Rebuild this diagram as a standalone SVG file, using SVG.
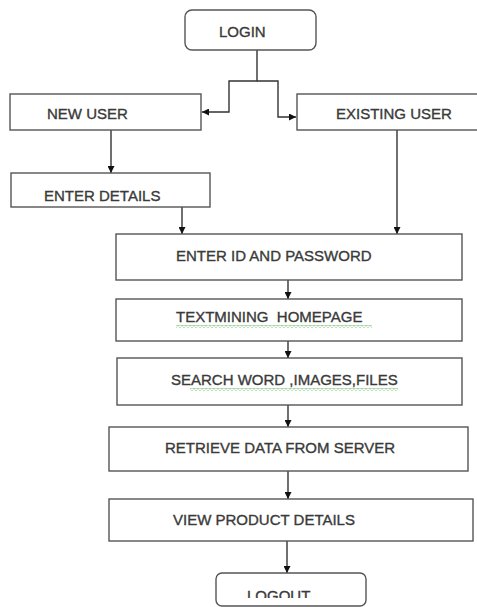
<svg xmlns="http://www.w3.org/2000/svg" width="477" height="607" viewBox="0 0 477 607">
<style>
.box{fill:#fff;stroke:#555;stroke-width:1.4}
.lbl{font-family:"Liberation Sans",Arial,sans-serif;font-size:15px;fill:#3a3a3a;stroke:#3a3a3a;stroke-width:0.35;white-space:pre}
.con{fill:none;stroke:#333;stroke-width:1.4}
</style>
<defs>
<marker id="ah" viewBox="0 0 10 10" refX="10" refY="5" markerWidth="7" markerHeight="7" orient="auto" markerUnits="userSpaceOnUse">
<path d="M0,0 L10,5 L0,10 Z" fill="#111"/>
</marker>
<pattern id="zz" width="4" height="3" patternUnits="userSpaceOnUse">
<path d="M0,0.6 L2,2.2 L4,0.6" fill="none" stroke="#6cbf6c" stroke-width="0.9"/>
</pattern>
<clipPath id="cl"><rect x="0" y="0" width="477" height="598"/></clipPath>
</defs>
<rect width="477" height="607" fill="#fff"/>
<g id="connectors">
<polyline class="con" points="257,50 257,81 229,81 229,112 202,112" marker-end="url(#ah)"/>
<polyline class="con" points="257,81 278,81 278,117 296,117" marker-end="url(#ah)"/>
<line class="con" x1="111" y1="130" x2="111" y2="173" marker-end="url(#ah)"/>
<line class="con" x1="182" y1="207" x2="182" y2="234" marker-end="url(#ah)"/>
<line class="con" x1="397" y1="130" x2="397" y2="234" marker-end="url(#ah)"/>
<line class="con" x1="288" y1="280" x2="288" y2="299" marker-end="url(#ah)"/>
<line class="con" x1="288" y1="341" x2="288" y2="358" marker-end="url(#ah)"/>
<line class="con" x1="288" y1="405" x2="288" y2="427" marker-end="url(#ah)"/>
<line class="con" x1="288" y1="471" x2="288" y2="499" marker-end="url(#ah)"/>
<line class="con" x1="287" y1="541" x2="287" y2="573" marker-end="url(#ah)"/>
</g>
<g id="login">
<rect class="box" x="185" y="10" width="131" height="40" rx="7"/>
<text class="lbl" x="219" y="37">LOGIN</text>
</g>
<g id="new-user">
<rect class="box" x="10" y="94" width="191" height="36"/>
<text class="lbl" x="47" y="119">NEW USER</text>
</g>
<g id="existing-user">
<rect class="box" x="297" y="94" width="182" height="36"/>
<text class="lbl" x="336" y="119">EXISTING USER</text>
</g>
<g id="enter-details">
<rect class="box" x="11" y="173" width="199" height="34"/>
<text class="lbl" x="44" y="201">ENTER DETAILS</text>
</g>
<g id="enter-id">
<rect class="box" x="116" y="234" width="346" height="46"/>
<text class="lbl" x="176" y="261">ENTER ID AND PASSWORD</text>
</g>
<g id="homepage">
<rect class="box" x="116" y="299" width="346" height="42"/>
<text class="lbl" x="176" y="322">TEXTMINING  HOMEPAGE</text>
<rect x="176" y="325" width="196" height="3" fill="url(#zz)"/>
</g>
<g id="search">
<rect class="box" x="117" y="358" width="345" height="47"/>
<text class="lbl" x="171" y="385">SEARCH WORD ,IMAGES,FILES</text>
<rect x="190" y="388" width="208" height="3" fill="url(#zz)"/>
</g>
<g id="retrieve">
<rect class="box" x="109" y="427" width="359" height="44"/>
<text class="lbl" x="165" y="453">RETRIEVE DATA FROM SERVER</text>
</g>
<g id="view">
<rect class="box" x="109" y="499" width="364" height="42"/>
<text class="lbl" x="173" y="525">VIEW PRODUCT DETAILS</text>
</g>
<g id="logout">
<rect class="box" x="216" y="573" width="150" height="33" rx="6"/>
<text class="lbl" x="247" y="601" clip-path="url(#cl)">LOGOUT</text>
</g>
</svg>
